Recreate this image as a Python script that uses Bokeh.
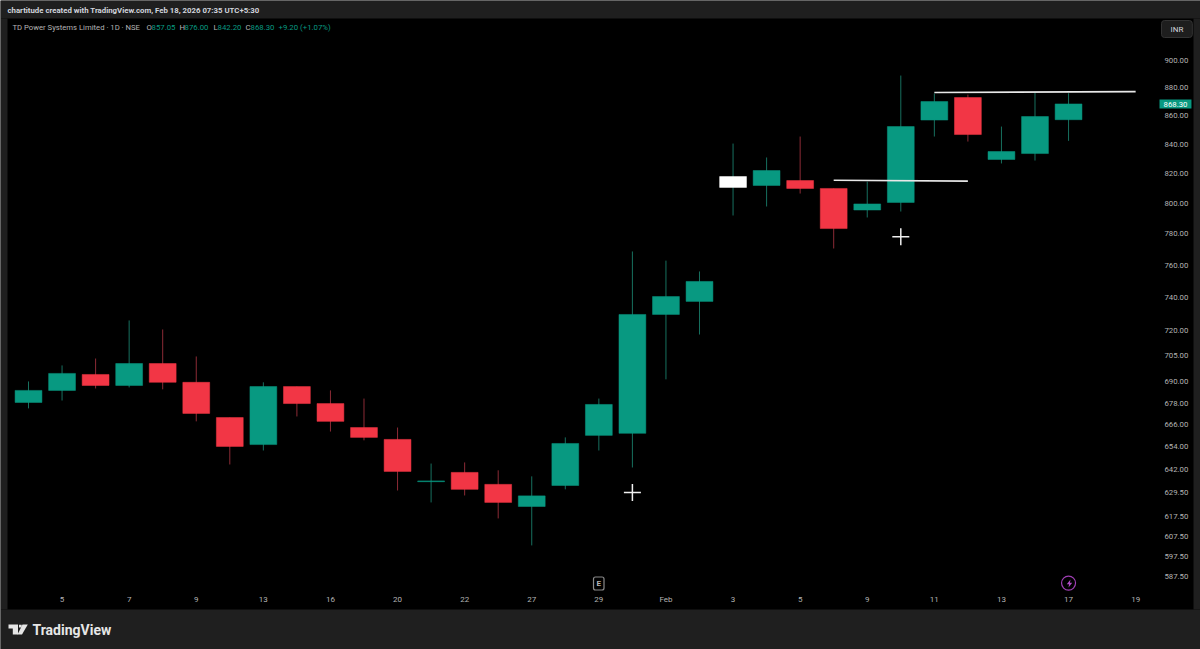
from bokeh.embed import file_html
from bokeh.resources import INLINE
from bokeh.plotting import figure
from bokeh.models import (ColumnDataSource, FixedTicker, PrintfTickFormatter, Label,
                          BoxAnnotation, PolyAnnotation)

# ---------- data ----------
x_labels = ["5", "7", "9", "13", "16", "20", "22", "27", "29", "Feb", "3", "5", "9", "11", "13", "17", "19"]
x_label_index = [1, 3, 5, 7, 9, 11, 13, 15, 17, 19, 21, 23, 25, 27, 29, 31, 33]
price_ticks = [900, 880, 860, 840, 820, 800, 780, 760, 740, 720, 705, 690, 678, 666, 654, 642,
               629.5, 617.5, 607.5, 597.5, 587.5]

opens = [678.4, 685.2, 694.3, 688.0, 700.6, 689.8, 670.0, 655.2, 687.4, 677.8, 664.5, 658.0, 635.4,
         640.3, 634.0, 622.5, 633.4, 660.2, 661.3, 729.6, 737.5, 810.4, 811.7, 815.0, 809.7, 795.4,
         800.4, 856.8, 872.9, 829.3, 833.4, 857.05]
highs = [690.3, 699.5, 703.5, 726.0, 720.6, 704.7, 670.0, 689.8, 687.4, 685.2, 680.6, 664.5, 645.0,
         645.6, 641.4, 638.2, 659.1, 680.6, 768.6, 762.8, 756.0, 840.3, 830.7, 845.2, 809.7, 814.3,
         888.9, 875.8, 875.0, 852.2, 876.5, 876.0]
lows = [675.1, 679.5, 686.3, 686.9, 685.8, 667.9, 644.5, 652.0, 670.6, 662.3, 657.5, 630.8, 624.6,
        628.2, 616.4, 602.8, 631.4, 652.0, 642.9, 691.5, 717.6, 791.8, 797.7, 806.3, 770.5, 790.5,
        794.4, 845.2, 841.7, 826.6, 828.6, 842.2]
closes = [685.2, 694.9, 688.0, 700.6, 689.8, 672.3, 654.2, 687.4, 677.8, 667.9, 659.1, 640.8, 635.8,
          631.4, 624.6, 628.0, 655.8, 677.3, 729.6, 740.5, 749.8, 817.7, 821.8, 809.7, 783.3, 799.4,
          852.2, 870.0, 846.6, 834.8, 859.3, 868.3]
highlighted_bar = 21

line_a_index = [24, 28]
line_a_price = [815.2, 814.6]
line_b_index = [27, 33]
line_b_price = [876.5, 877.2]
cross_index = [18, 26]
cross_price = [629.7, 778.0]

# ---------- style ----------
UP, DOWN = "#089981", "#f23645"
UP_WICK, DOWN_WICK = "#17705f", "#8c2b36"
CHROME = "#1f1f1f"
TXT = "#b4b4b4"
FONT = "Roboto"
W, H = 1200, 649

colors = [UP if c >= o else DOWN for o, c in zip(opens, closes)]
wicks = [UP_WICK if c >= o else DOWN_WICK for o, c in zip(opens, closes)]
colors[highlighted_bar] = "#ffffff"

src = ColumnDataSource(dict(
    i=list(range(len(opens))), o=opens, h=highs, l=lows, c=closes, color=colors, wick=wicks,
    top=[max(a, b) for a, b in zip(opens, closes)], bot=[min(a, b) for a, b in zip(opens, closes)],
))

p = figure(width=W, height=H, output_backend="svg", toolbar_location=None,
           y_axis_type="log", y_axis_location="right",
           x_range=(-0.8346, 34.933), y_range=(553.1, 945.8),
           min_border_left=0, min_border_right=0, min_border_top=0, min_border_bottom=0,
           background_fill_color="#000000", border_fill_color="#000000", outline_line_color=None)
p.grid.visible = False

p.xaxis.ticker = FixedTicker(ticks=x_label_index)
p.xaxis.major_label_overrides = dict(zip(x_label_index, x_labels))
p.yaxis.ticker = FixedTicker(ticks=price_ticks)
p.yaxis.formatter = PrintfTickFormatter(format="%.2f")
for ax in (p.xaxis[0], p.yaxis[0]):
    ax.axis_line_color = None
    ax.major_tick_line_color = None
    ax.minor_tick_line_color = None
    ax.major_tick_out = 0
    ax.major_tick_in = 0
    ax.major_label_text_color = TXT
    ax.major_label_text_font = FONT
p.xaxis.major_label_text_font_size = "8px"
p.yaxis.major_label_text_font_size = "7.8px"
p.xaxis.fixed_location = 580.9
p.yaxis.fixed_location = 33.50
p.xaxis.major_label_standoff = 5
p.yaxis.major_label_standoff = 12

p.segment("i", "h", "i", "l", color="wick", line_width=1, source=src)
p.vbar("i", 0.8, "bot", "top", fill_color="color", line_color="color", line_width=0.5, source=src)

p.line(line_a_index, line_a_price, color="#e8e8e8", line_width=1.6)
p.line(line_b_index, line_b_price, color="#e8e8e8", line_width=1.6)
p.scatter(cross_index, cross_price, marker="cross", size=17, line_color="#f0f0f0", line_width=1.5)


def band(x0, x1, y0, y1):
    p.add_layout(BoxAnnotation(left=x0, right=x1, top=H - y0, bottom=H - y1, left_units="screen",
                               right_units="screen", top_units="screen", bottom_units="screen",
                               fill_color=CHROME, fill_alpha=1, line_color=None))


band(0, W, 0, 18)
band(0, W, 609, H)
band(0, 7, 18, 609)
band(1193, W, 18, 609)


def text(x, y, t, color=TXT, size="7.8px", **kw):
    lab = Label(x=x, y=H - y, x_units="screen", y_units="screen", text=t, text_color=color,
                text_font=FONT, text_font_size=size, text_baseline="middle", **kw)
    p.add_layout(lab)
    return lab


def poly(points, color):
    p.add_layout(PolyAnnotation(xs=[a for a, _ in points], ys=[H - b for _, b in points],
                                xs_units="screen", ys_units="screen", fill_color=color, fill_alpha=1,
                                line_color=None))


text(7, 10, "chartitude created with TradingView.com, Feb 18, 2026 07:35 UTC+5:30", color="#d1d4dc",
     size="7.8px", text_font_style="bold")
# header
text(12, 27, "TD Power Systems Limited · 1D · NSE", size="7.7px")
for x, t, c in [(146, "O", TXT), (151, "857.05", UP), (179, "H", TXT), (184, "876.00", UP),
                (213, "L", TXT), (217, "842.20", UP), (245, "C", TXT), (250, "868.30", UP),
                (278, "+9.20 (+1.07%)", UP)]:
    text(x, 27, t, color=c)

# currency box
text(1161, 28.5, "INR", color="#d1d4dc", size="8px", background_fill_color="#1e1e1e",
     border_line_color="#333333", padding=(9, 4), border_radius=3)
# last price tag
text(1159, 103.5, "868.30", color="#ffffff", background_fill_color=UP, padding=(4, 2))

# earnings marker box
text(593, 583, "E", color=TXT, size="8px", border_line_color="#8a8a8a", border_line_width=1.2, padding=(3, 2),
     border_radius=2, text_font_style="bold")
# dividend-style lightning marker
p.scatter([31], [584.3], marker="circle", size=14, fill_color=None, line_color="#a03fb5", line_width=1.2)
poly([(1070, 579), (1066.3, 583.8), (1068.6, 583.8), (1068, 587), (1071.7, 582.2), (1069.4, 582.2)], "#b04cc8")

# footer logo and wordmark
LOGO = "#e6e6e6"
poly([(8, 624), (17.5, 624), (17.5, 634), (12.3, 634), (12.3, 628), (8, 628)], LOGO)
poly([(18.5, 624.2), (21.2, 624.2), (21.2, 627), (18.5, 627)], LOGO)
poly([(22, 624), (27.3, 624), (21.5, 634), (17, 634)], LOGO)
text(32, 629, "TradingView", color=LOGO, size="14px", text_font_style="bold")

open("out.html", "w").write(file_html(p, INLINE))
